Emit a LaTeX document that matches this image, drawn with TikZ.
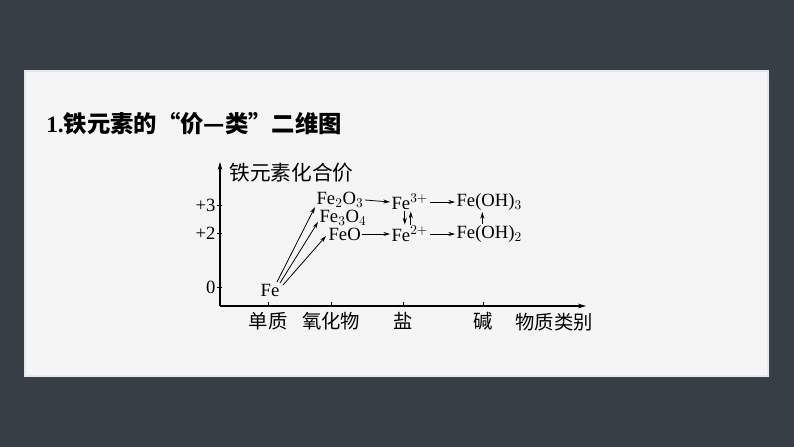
\documentclass[tikz,border=0pt]{standalone}
\usepackage{fontspec}
\setmainfont{Liberation Serif}
\newfontfamily\cjk{Noto Sans CJK SC}
\usetikzlibrary{arrows.meta}
\definecolor{bgdark}{RGB}{56,62,70}
\definecolor{panel}{RGB}{245,245,245}
\definecolor{paneledge}{RGB}{225,232,240}
\begin{document}
\begin{tikzpicture}[x=0.75pt,y=-0.75pt,
  chem/.style={inner sep=1pt, font=\fontsize{14}{16}\selectfont},
  cn/.style={inner sep=1pt, font=\cjk\fontsize{14.5}{16}\selectfont},
  rx/.style={-{Stealth[length=5pt,width=3pt]}, line width=0.6pt},
  ax/.style={line width=0.8pt},
  tk/.style={line width=0.6pt}]
\fill[bgdark] (0,0) rectangle (794,447);
\useasboundingbox (0,0) rectangle (794,447);
\fill[black!70, opacity=0.45] (27,73) rectangle (770,378);
\draw[paneledge, fill=panel, line width=0.8pt] (25,71) rectangle (768,376);
% title
\node[anchor=west, inner sep=0pt, font=\fontsize{17.5}{19}\selectfont\bfseries] (title) at (46,124)
  {1.{\cjk\bfseries 铁元素的“价—类”二维图}};
% axes
\coordinate (org) at (220,306);
\coordinate (ytop) at (220,162);
\coordinate (xend) at (586,306);
\draw[ax,-{Stealth[length=6pt,width=3.5pt]}] (org) -- (ytop);
\draw[ax,-{Stealth[length=6pt,width=3.5pt]}] (org) -- (xend);
% y ticks
\foreach \yy/\lab/\nm in {205/+3/ythree, 233/+2/ytwo, 287/0/yzero}{
  \draw[tk] (217,\yy) -- (222,\yy);
  \node[chem, anchor=east] (\nm) at (217,\yy) {\lab};
}
% x ticks
\foreach \xx/\lab/\nm in {268/单质/xdz, 331/氧化物/xyhw, 403/盐/xy, 483/碱/xj}{
  \draw[tk] (\xx,306) -- (\xx,302);
  \node[cn, anchor=north] (\nm) at (\xx,311) {\lab};
}
\node[cn, anchor=west] (xlabel) at (514,322) {物质类别};
\node[cn, anchor=west, font=\cjk\fontsize{15.5}{17}\selectfont] (ylabel) at (228,173) {铁元素化合价};
% species
\node[chem] (Fe) at (270,290) {Fe};
\node[chem, anchor=west] (Fe2O3) at (315,200) {Fe$_2$O$_3$};
\node[chem] (Fe3O4) at (343,218) {Fe$_3$O$_4$};
\node[chem, anchor=west] (FeO) at (327,234) {FeO};
\node[chem, anchor=west] (Fe3) at (390,202) {Fe$^{3+}$};
\node[chem, anchor=west] (Fe2) at (390,234) {Fe$^{2+}$};
\node[chem, anchor=west] (FeOH3) at (455,202) {Fe(OH)$_3$};
\node[chem, anchor=west] (FeOH2) at (455,234) {Fe(OH)$_2$};
% arrows
\draw[rx] ([shift={(7,-8)}]Fe.center) -- ([shift={(0,7)}]Fe2O3.west);
\draw[rx] ([shift={(10,-7)}]Fe.center) -- ([shift={(-25,4)}]Fe3O4.center);
\draw[rx] ([shift={(13,-5)}]Fe.center) -- ([shift={(-1,2)}]FeO.west);
\draw[rx] (Fe2O3.east) -- (Fe3.west);
\draw[rx] (FeO.east) -- (Fe2.west);
\draw[rx] (Fe3.east) -- (FeOH3.west);
\draw[rx] (Fe2.east) -- (FeOH2.west);
\draw[rx] ([shift={(-5,0)}]Fe3.south) -- ([shift={(-5,0)}]Fe2.north);
\draw[rx] ([shift={(1,0)}]Fe2.north) -- ([shift={(1,0)}]Fe3.south);
\draw[rx] ([shift={(-7,0)}]FeOH2.north) -- ([shift={(-7,0)}]FeOH3.south);
\end{tikzpicture}
\end{document}
